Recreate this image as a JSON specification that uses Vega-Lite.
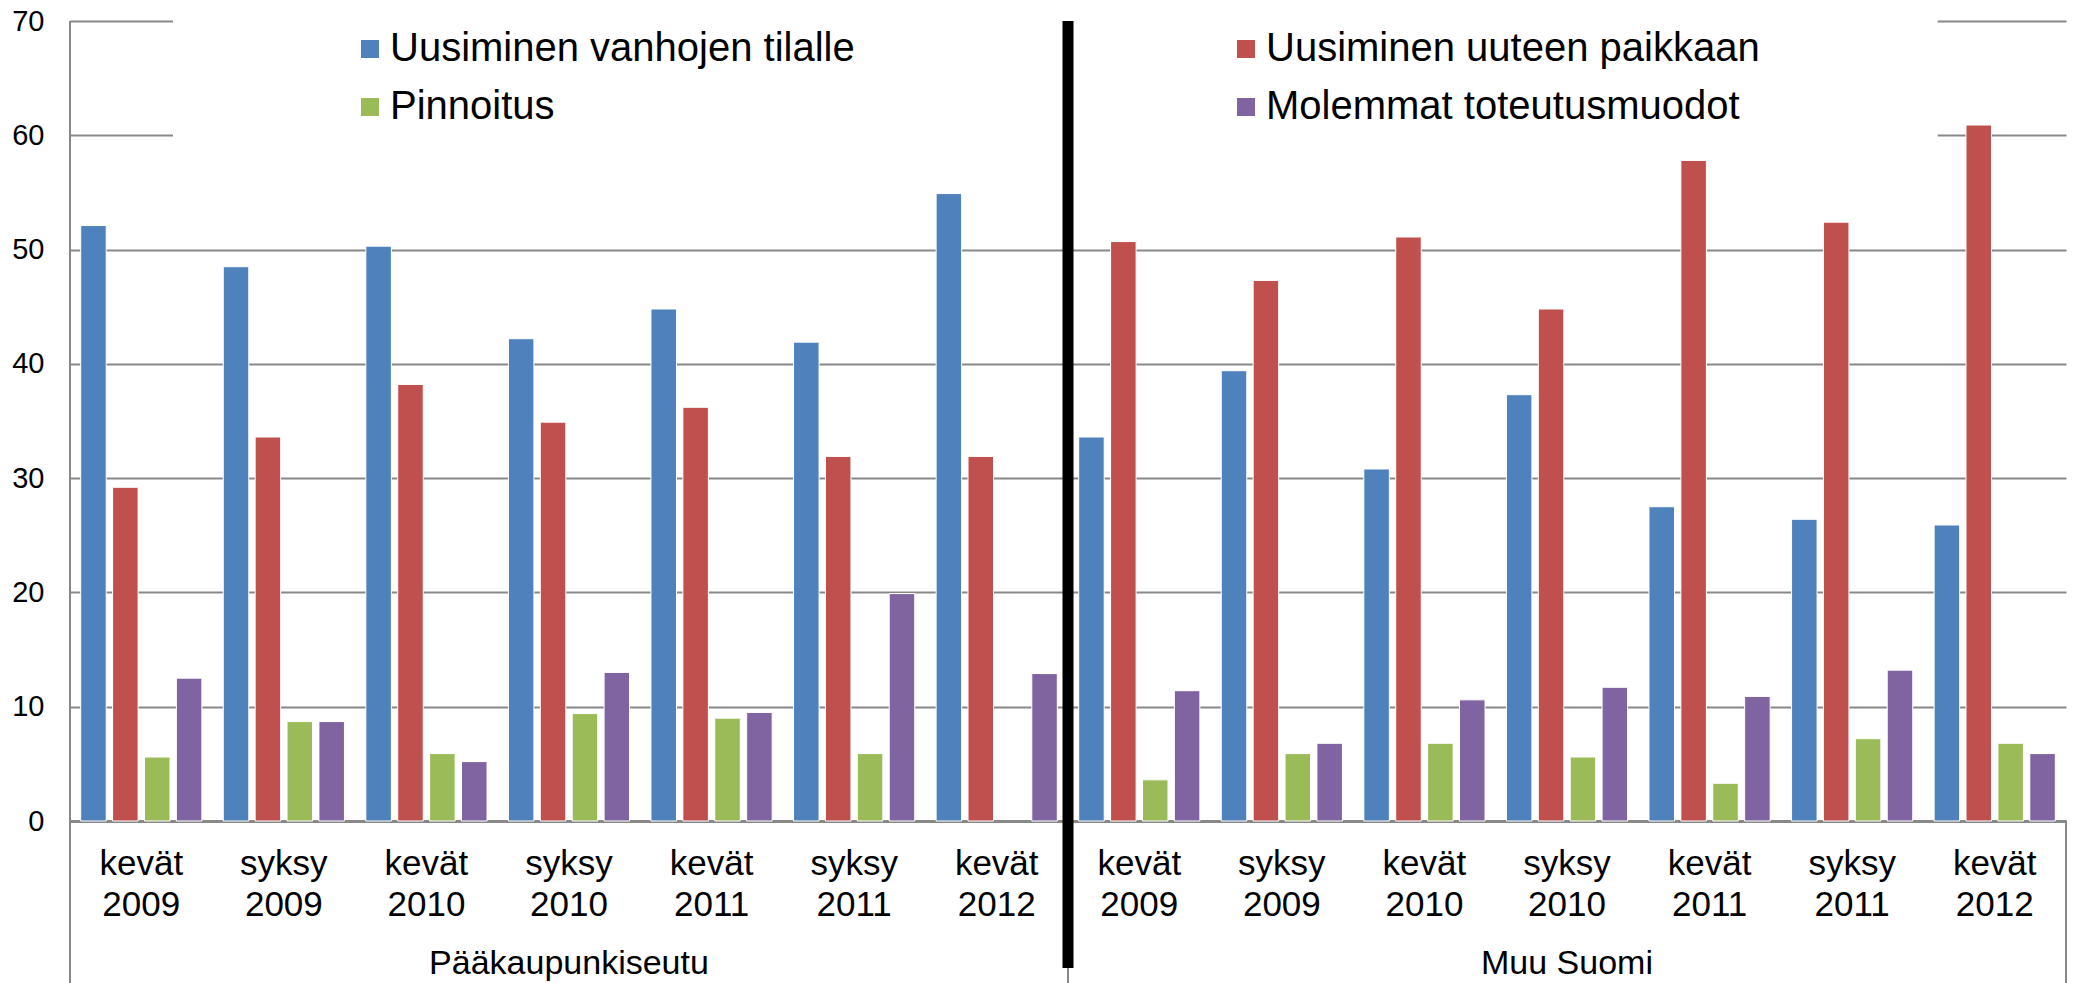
{
  "$schema": "https://vega.github.io/schema/vega-lite/v6.json",
  "autosize": {"type": "none"},
  "padding": {"left": 70, "top": 21, "right": 8, "bottom": 162},
  "width": 1996,
  "height": 800,
  "background": "white",
  "config": {"font": "Liberation Sans", "view": {"stroke": null}},
  "datasets": {
    "bars": [
      {"key": "P|kevät 2009", "series": "Uusiminen vanhojen tilalle", "value": 52.1},
      {"key": "P|kevät 2009", "series": "Uusiminen uuteen paikkaan", "value": 29.2},
      {"key": "P|kevät 2009", "series": "Pinnoitus", "value": 5.6},
      {"key": "P|kevät 2009", "series": "Molemmat toteutusmuodot", "value": 12.5},
      {"key": "P|syksy 2009", "series": "Uusiminen vanhojen tilalle", "value": 48.5},
      {"key": "P|syksy 2009", "series": "Uusiminen uuteen paikkaan", "value": 33.6},
      {"key": "P|syksy 2009", "series": "Pinnoitus", "value": 8.7},
      {"key": "P|syksy 2009", "series": "Molemmat toteutusmuodot", "value": 8.7},
      {"key": "P|kevät 2010", "series": "Uusiminen vanhojen tilalle", "value": 50.3},
      {"key": "P|kevät 2010", "series": "Uusiminen uuteen paikkaan", "value": 38.2},
      {"key": "P|kevät 2010", "series": "Pinnoitus", "value": 5.9},
      {"key": "P|kevät 2010", "series": "Molemmat toteutusmuodot", "value": 5.2},
      {"key": "P|syksy 2010", "series": "Uusiminen vanhojen tilalle", "value": 42.2},
      {"key": "P|syksy 2010", "series": "Uusiminen uuteen paikkaan", "value": 34.9},
      {"key": "P|syksy 2010", "series": "Pinnoitus", "value": 9.4},
      {"key": "P|syksy 2010", "series": "Molemmat toteutusmuodot", "value": 13.0},
      {"key": "P|kevät 2011", "series": "Uusiminen vanhojen tilalle", "value": 44.8},
      {"key": "P|kevät 2011", "series": "Uusiminen uuteen paikkaan", "value": 36.2},
      {"key": "P|kevät 2011", "series": "Pinnoitus", "value": 9.0},
      {"key": "P|kevät 2011", "series": "Molemmat toteutusmuodot", "value": 9.5},
      {"key": "P|syksy 2011", "series": "Uusiminen vanhojen tilalle", "value": 41.9},
      {"key": "P|syksy 2011", "series": "Uusiminen uuteen paikkaan", "value": 31.9},
      {"key": "P|syksy 2011", "series": "Pinnoitus", "value": 5.9},
      {"key": "P|syksy 2011", "series": "Molemmat toteutusmuodot", "value": 19.9},
      {"key": "P|kevät 2012", "series": "Uusiminen vanhojen tilalle", "value": 54.9},
      {"key": "P|kevät 2012", "series": "Uusiminen uuteen paikkaan", "value": 31.9},
      {"key": "P|kevät 2012", "series": "Molemmat toteutusmuodot", "value": 12.9},
      {"key": "M|kevät 2009", "series": "Uusiminen vanhojen tilalle", "value": 33.6},
      {"key": "M|kevät 2009", "series": "Uusiminen uuteen paikkaan", "value": 50.7},
      {"key": "M|kevät 2009", "series": "Pinnoitus", "value": 3.6},
      {"key": "M|kevät 2009", "series": "Molemmat toteutusmuodot", "value": 11.4},
      {"key": "M|syksy 2009", "series": "Uusiminen vanhojen tilalle", "value": 39.4},
      {"key": "M|syksy 2009", "series": "Uusiminen uuteen paikkaan", "value": 47.3},
      {"key": "M|syksy 2009", "series": "Pinnoitus", "value": 5.9},
      {"key": "M|syksy 2009", "series": "Molemmat toteutusmuodot", "value": 6.8},
      {"key": "M|kevät 2010", "series": "Uusiminen vanhojen tilalle", "value": 30.8},
      {"key": "M|kevät 2010", "series": "Uusiminen uuteen paikkaan", "value": 51.1},
      {"key": "M|kevät 2010", "series": "Pinnoitus", "value": 6.8},
      {"key": "M|kevät 2010", "series": "Molemmat toteutusmuodot", "value": 10.6},
      {"key": "M|syksy 2010", "series": "Uusiminen vanhojen tilalle", "value": 37.3},
      {"key": "M|syksy 2010", "series": "Uusiminen uuteen paikkaan", "value": 44.8},
      {"key": "M|syksy 2010", "series": "Pinnoitus", "value": 5.6},
      {"key": "M|syksy 2010", "series": "Molemmat toteutusmuodot", "value": 11.7},
      {"key": "M|kevät 2011", "series": "Uusiminen vanhojen tilalle", "value": 27.5},
      {"key": "M|kevät 2011", "series": "Uusiminen uuteen paikkaan", "value": 57.8},
      {"key": "M|kevät 2011", "series": "Pinnoitus", "value": 3.3},
      {"key": "M|kevät 2011", "series": "Molemmat toteutusmuodot", "value": 10.9},
      {"key": "M|syksy 2011", "series": "Uusiminen vanhojen tilalle", "value": 26.4},
      {"key": "M|syksy 2011", "series": "Uusiminen uuteen paikkaan", "value": 52.4},
      {"key": "M|syksy 2011", "series": "Pinnoitus", "value": 7.2},
      {"key": "M|syksy 2011", "series": "Molemmat toteutusmuodot", "value": 13.2},
      {"key": "M|kevät 2012", "series": "Uusiminen vanhojen tilalle", "value": 25.9},
      {"key": "M|kevät 2012", "series": "Uusiminen uuteen paikkaan", "value": 60.9},
      {"key": "M|kevät 2012", "series": "Pinnoitus", "value": 6.8},
      {"key": "M|kevät 2012", "series": "Molemmat toteutusmuodot", "value": 5.9}
    ],
    "separators": [
      {"pos": 0, "from": 70, "to": -14.5},
      {"pos": 7, "from": 0, "to": -14.5},
      {"pos": 14, "from": 0, "to": -14.5}
    ],
    "regions": [
      {"region": "Pääkaupunkiseutu", "mid": 3.5},
      {"region": "Muu Suomi", "mid": 10.5}
    ]
  },
  "layer": [
    {
      "data": {"values": [{"x0": 0.722, "x1": 13.1, "y0": 53, "y1": 71}]},
      "mark": {"type": "rect", "color": "white", "clip": false},
      "encoding": {
        "x": {"field": "x0", "type": "quantitative", "scale": {"domain": [0, 14], "nice": false, "zero": false}, "axis": null},
        "x2": {"field": "x1"},
        "y": {"field": "y0", "type": "quantitative", "scale": {"domain": [0, 70], "nice": false}, "title": null},
        "y2": {"field": "y1"}
      }
    },
    {
      "data": {"name": "bars"},
      "mark": {"type": "bar", "stroke": "white", "strokeWidth": 1},
      "encoding": {
        "x": {
          "field": "key", "type": "nominal", "sort": null,
          "scale": {"paddingInner": 0.15, "paddingOuter": 0.075},
          "axis": {
            "title": null, "ticks": false,
            "labelExpr": "split(split(datum.label, '|')[1], ' ')",
            "labelAngle": 0, "labelFontSize": 35, "labelColor": "black",
            "labelBaseline": "top", "labelLineHeight": 41, "labelPadding": 25,
            "domainColor": "#888888", "domainWidth": 3
          }
        },
        "xOffset": {
          "field": "series", "type": "nominal",
          "sort": ["Uusiminen vanhojen tilalle", "Uusiminen uuteen paikkaan", "Pinnoitus", "Molemmat toteutusmuodot"],
          "scale": {"paddingInner": 0.2, "paddingOuter": 0}
        },
        "y": {
          "field": "value", "type": "quantitative", "title": null,
          "scale": {"domain": [0, 70], "nice": false},
          "axis": {
            "values": [0, 10, 20, 30, 40, 50, 60, 70], "ticks": false, "domain": false,
            "labelFontSize": 29, "labelColor": "black", "labelPadding": 26,
            "gridColor": "#888888", "gridWidth": 2
          }
        },
        "color": {
          "field": "series", "type": "nominal",
          "scale": {
            "domain": ["Uusiminen vanhojen tilalle", "Uusiminen uuteen paikkaan", "Pinnoitus", "Molemmat toteutusmuodot"],
            "range": ["#4F81BD", "#C0504D", "#9BBB59", "#8064A2"]
          },
          "legend": {
            "title": null, "orient": "none", "legendX": 280, "legendY": 8,
            "direction": "horizontal", "columns": 2, "columnPadding": 371, "rowPadding": 18,
            "symbolType": "square", "symbolSize": 324, "symbolStrokeWidth": 0,
            "labelFontSize": 40, "labelColor": "black", "labelOffset": 0,
            "labelLimit": 1000, "padding": 0
          }
        }
      }
    },
    {
      "data": {"name": "separators"},
      "mark": {"type": "rule", "color": "#888888", "strokeWidth": 2, "clip": false},
      "encoding": {
        "x": {"field": "pos", "type": "quantitative", "scale": {"domain": [0, 14], "nice": false, "zero": false}, "axis": null},
        "y": {"field": "from", "type": "quantitative", "scale": {"domain": [0, 70], "nice": false}, "title": null},
        "y2": {"field": "to"}
      }
    },
    {
      "data": {"values": [{"pos": 7, "from": 70, "to": -12.86}]},
      "mark": {"type": "rule", "color": "black", "strokeWidth": 11, "clip": false},
      "encoding": {
        "x": {"field": "pos", "type": "quantitative", "scale": {"domain": [0, 14], "nice": false, "zero": false}, "axis": null},
        "y": {"field": "from", "type": "quantitative", "scale": {"domain": [0, 70], "nice": false}, "title": null},
        "y2": {"field": "to"}
      }
    },
    {
      "data": {"name": "regions"},
      "mark": {"type": "text", "fontSize": 34, "color": "black", "align": "center", "baseline": "alphabetic", "clip": false},
      "encoding": {
        "x": {"field": "mid", "type": "quantitative", "scale": {"domain": [0, 14], "nice": false, "zero": false}, "axis": null},
        "y": {"datum": -13.4, "type": "quantitative", "scale": {"domain": [0, 70], "nice": false}, "title": null},
        "text": {"field": "region"}
      }
    }
  ],
  "resolve": {"scale": {"x": "independent"}, "axis": {"x": "independent"}}
}
